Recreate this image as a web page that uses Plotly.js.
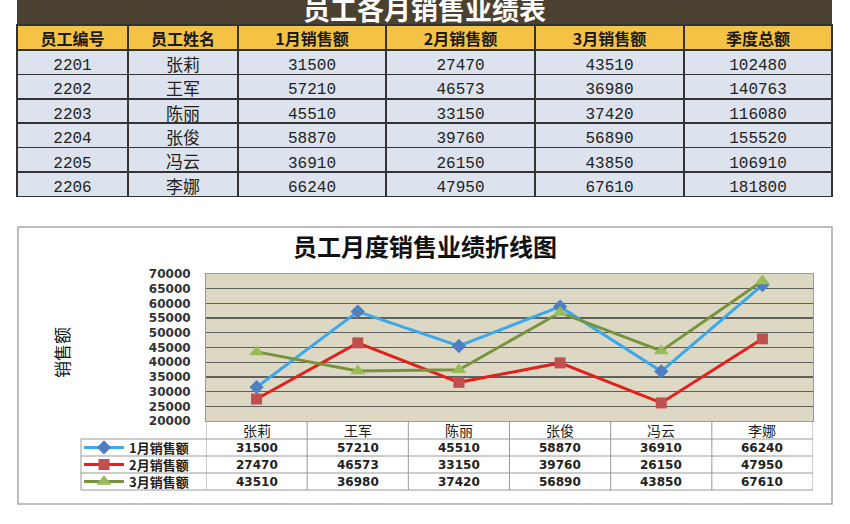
<!DOCTYPE html>
<html>
<head>
<meta charset="utf-8">
<script src="https://cdn.plot.ly/plotly-3.0.1.min.js"></script>
<style>
  html, body { margin: 0; padding: 0; background: #fff; }
  #chart { width: 850px; height: 524px; }
</style>
</head>
<body>
<div id="chart"></div>
<script>
// values
const tableTitle = '员工各月销售业绩表';
const chartTitle = '员工月度销售业绩折线图';
const headers = ['员工编号', '员工姓名', '1月销售额', '2月销售额', '3月销售额', '季度总额'];
const empIds = ['2201', '2202', '2203', '2204', '2205', '2206'];
const names = ['张莉', '王军', '陈丽', '张俊', '冯云', '李娜'];
const seriesNames = ['1月销售额', '2月销售额', '3月销售额'];
const jan = [31500, 57210, 45510, 58870, 36910, 66240];
const feb = [27470, 46573, 33150, 39760, 26150, 47950];
const mar = [43510, 36980, 37420, 56890, 43850, 67610];
const totals = [102480, 140763, 116080, 155520, 106910, 181800];

const W = 850, H = 524;
const px = x => x / W;
const py = y => 1 - y / H;

const cjk = '"Noto Sans CJK SC", sans-serif';
const num = '"DejaVu Sans", sans-serif';
const mono = '"Liberation Mono", monospace';

// top table
const topTable = {
    type: 'table',
    domain: { x: [px(17), px(832)], y: [py(199), py(25)] },
    columnwidth: [111, 110, 148, 149, 149, 148],
    header: {
        values: headers,
        fill: { color: '#F4C244' },
        line: { color: '#333', width: 1.5 },
        font: { family: cjk, size: 16, color: '#1a1a1a', weight: 'bold' },
        align: 'center',
        height: 25
    },
    cells: {
        values: [empIds, names, jan, feb, mar, totals],
        fill: { color: '#DCE3EE' },
        line: { color: '#333', width: 1.5 },
        font: { family: [mono, cjk, mono], size: [16, 17, 16], color: '#222' },
        align: 'center',
        height: 24.4
    }
};

const styles = [
    { line: '#3AA8EA', marker: '#4F7EC2', symbol: 'diamond', size: 11 },
    { line: '#E2201C', marker: '#C0504D', symbol: 'square', size: 11 },
    { line: '#77933C', marker: '#9BBB59', symbol: 'triangle-up', size: 13 }
];
const legendIds = ['legend', 'legend2', 'legend3'];
const series = [jan, feb, mar];

const lines = series.map((vals, i) => ({
    type: 'scatter',
    mode: 'lines+markers',
    x: names,
    y: vals,
    name: seriesNames[i],
    legend: legendIds[i],
    line: { color: styles[i].line, width: 3 },
    marker: { color: styles[i].marker, symbol: styles[i].symbol, size: styles[i].size }
}));

// data table rows under the plot (pixel rows)
const headTop = 421, headBot = 439;
const rowTops = [439, 456, 473];
const rowH = 17;
const tableBot = 490;
const gridColor = '#9a9a9a';

const legendLayout = {};
legendIds.forEach((id, i) => {
    legendLayout[id] = {
        x: px(79), xanchor: 'left',
        y: py(rowTops[i] + rowH / 2), yanchor: 'middle',
        bgcolor: 'rgba(0,0,0,0)',
        borderwidth: 0,
        itemwidth: 40,
        font: { family: cjk, size: 13, color: '#222', weight: 'bold' }
    };
});

const annotations = [
    { text: '<b>' + tableTitle + '</b>', xref: 'paper', yref: 'paper', x: px(424), y: py(8),
      showarrow: false, font: { family: cjk, size: 27, color: '#fff' }, xanchor: 'center', yanchor: 'middle' },
    { text: '<b>' + chartTitle + '</b>', xref: 'paper', yref: 'paper', x: px(425), y: py(246),
      showarrow: false, font: { family: cjk, size: 24, color: '#111' }, xanchor: 'center', yanchor: 'middle' },
    { text: '销售额', xref: 'paper', yref: 'paper', x: px(61), y: py(353), textangle: -90,
      showarrow: false, font: { family: cjk, size: 17, color: '#111' }, xanchor: 'center', yanchor: 'middle' }
];
// category header and value cells, placed on the category axis
names.forEach((n, j) => {
    annotations.push({ text: n, xref: 'x', yref: 'paper', x: n, y: py((headTop + headBot) / 2),
        showarrow: false, font: { family: cjk, size: 14, color: '#222' }, xanchor: 'center', yanchor: 'middle' });
    series.forEach((vals, i) => {
        annotations.push({ text: String(vals[j]), xref: 'x', yref: 'paper', x: n, y: py(rowTops[i] + rowH / 2),
            showarrow: false, font: { family: num, size: 12, color: '#222', weight: 'bold' }, xanchor: 'center', yanchor: 'middle' });
    });
});

const shapes = [
    // title band of the top table
    { type: 'rect', xref: 'paper', yref: 'paper', x0: px(17), x1: px(832), y0: py(25), y1: py(0),
      fillcolor: '#4A4130', line: { width: 0 }, layer: 'below' },
    // chart frame
    { type: 'rect', xref: 'paper', yref: 'paper', x0: px(18), x1: px(832), y0: py(504), y1: py(227),
      fillcolor: 'rgba(0,0,0,0)', line: { color: '#A8A8A8', width: 1.5 }, layer: 'below' },
    // left edge of the legend column
    { type: 'line', xref: 'paper', yref: 'paper', x0: px(81), x1: px(81), y0: py(tableBot), y1: py(headBot),
      line: { color: gridColor, width: 1 } }
];
// horizontal rules of the data table
[headBot, rowTops[1], rowTops[2], tableBot].forEach(y => {
    shapes.push({ type: 'line', xref: 'paper', yref: 'paper', x0: px(81), x1: px(813), y0: py(y), y1: py(y),
        line: { color: gridColor, width: 1 } });
});
// vertical rules at the category boundaries
for (let k = 0; k <= names.length; k++) {
    shapes.push({ type: 'line', xref: 'x', yref: 'paper', x0: k - 0.5, x1: k - 0.5, y0: py(tableBot), y1: py(headTop),
        line: { color: gridColor, width: 1 } });
}

const layout = Object.assign({
    width: W,
    height: H,
    margin: { l: 0, r: 0, t: 0, b: 0 },
    paper_bgcolor: '#fff',
    plot_bgcolor: '#DDD8C3',
    showlegend: true,
    xaxis: {
        domain: [px(206), px(813)],
        type: 'category',
        range: [-0.5, 5.5],
        showticklabels: false,
        showgrid: false,
        zeroline: false,
        showline: true,
        linecolor: '#999',
        linewidth: 1,
        mirror: true,
        fixedrange: true
    },
    yaxis: {
        domain: [py(headTop), py(274)],
        range: [20000, 70000],
        dtick: 5000,
        tickformat: 'd',
        showgrid: true,
        gridcolor: '#5f5f5f',
        gridwidth: 1.3,
        zeroline: false,
        showline: true,
        linecolor: '#999',
        mirror: true,
        ticks: '',
        ticklabelstandoff: 12,
        tickfont: { family: num, size: 12, color: '#333', weight: 'bold' },
        fixedrange: true
    },
    shapes: shapes,
    annotations: annotations
}, legendLayout);

Plotly.newPlot('chart', [topTable].concat(lines), layout, { displayModeBar: false, staticPlot: true });
</script>
</body>
</html>
